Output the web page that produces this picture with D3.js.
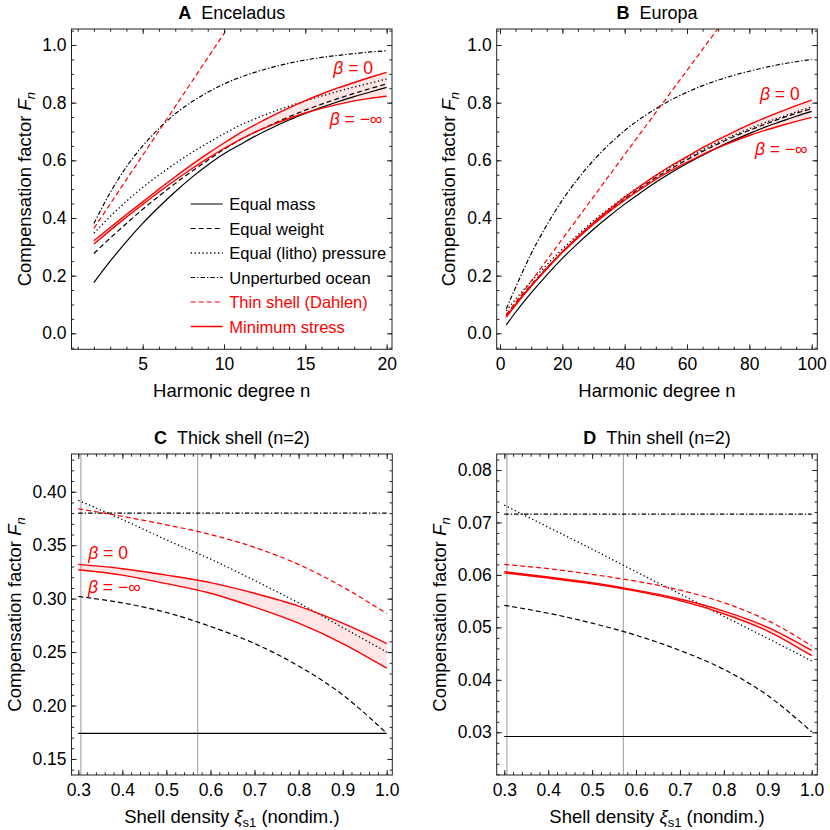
<!DOCTYPE html>
<html>
<head>
<meta charset="utf-8">
<script src="https://cdn.jsdelivr.net/npm/d3@7"></script>
<style>
  body { margin: 0; background: #fff; }
  svg text { font-family: "Liberation Sans", Arial, Helvetica, sans-serif; }
</style>
</head>
<body>
<svg id="fig" width="830" height="830"></svg>
<script>
// ---------- data ----------

// A: Enceladus, F_n vs harmonic degree
var degreeA = [2, 3, 4, 5, 6, 7, 8, 9, 10, 11, 12, 13, 14, 15, 16, 17, 18, 19, 20];
var encMass     = [0.176, 0.250, 0.318, 0.381, 0.438, 0.491, 0.540, 0.584, 0.623, 0.655, 0.686, 0.714, 0.740, 0.763, 0.784, 0.803, 0.821, 0.837, 0.853];
var encWeight   = [0.277, 0.330, 0.381, 0.430, 0.476, 0.520, 0.561, 0.600, 0.638, 0.672, 0.700, 0.726, 0.751, 0.774, 0.795, 0.814, 0.832, 0.849, 0.865];
var encPressure = [0.347, 0.405, 0.458, 0.506, 0.549, 0.589, 0.626, 0.660, 0.692, 0.722, 0.746, 0.768, 0.788, 0.806, 0.823, 0.839, 0.854, 0.868, 0.882];
var encOcean    = [0.381, 0.488, 0.577, 0.650, 0.710, 0.761, 0.802, 0.836, 0.865, 0.888, 0.907, 0.923, 0.937, 0.948, 0.957, 0.964, 0.970, 0.976, 0.980];
var encBeta0    = [0.321, 0.367, 0.412, 0.456, 0.500, 0.543, 0.584, 0.623, 0.660, 0.695, 0.726, 0.755, 0.782, 0.807, 0.830, 0.851, 0.870, 0.888, 0.905];
var encBetaInf  = [0.310, 0.357, 0.403, 0.447, 0.490, 0.531, 0.570, 0.607, 0.641, 0.672, 0.700, 0.724, 0.745, 0.764, 0.780, 0.794, 0.806, 0.815, 0.822];
var degreeDahlenA = [2, 4, 6, 8, 10, 12];
var encDahlen     = [0.364, 0.533, 0.702, 0.871, 1.040, 1.209];

// B: Europa
var degreeB = [2, 5, 10, 15, 20, 25, 30, 35, 40, 45, 50, 55, 60, 65, 70, 75, 80, 85, 90, 95, 100];
var eurMass     = [0.029, 0.073, 0.140, 0.202, 0.260, 0.312, 0.361, 0.406, 0.448, 0.487, 0.524, 0.558, 0.589, 0.618, 0.645, 0.670, 0.693, 0.715, 0.734, 0.753, 0.770];
var eurWeight   = [0.064, 0.104, 0.168, 0.227, 0.282, 0.333, 0.381, 0.425, 0.466, 0.504, 0.540, 0.572, 0.602, 0.631, 0.657, 0.682, 0.704, 0.725, 0.745, 0.763, 0.779];
var eurPressure = [0.078, 0.118, 0.180, 0.237, 0.292, 0.342, 0.390, 0.433, 0.474, 0.511, 0.547, 0.579, 0.609, 0.637, 0.663, 0.687, 0.710, 0.731, 0.749, 0.768, 0.785];
var eurOcean    = [0.085, 0.159, 0.276, 0.375, 0.462, 0.536, 0.600, 0.655, 0.703, 0.744, 0.779, 0.810, 0.836, 0.859, 0.878, 0.895, 0.909, 0.922, 0.933, 0.942, 0.950];
var eurBeta0    = [0.058, 0.100, 0.165, 0.226, 0.283, 0.335, 0.384, 0.429, 0.472, 0.511, 0.548, 0.582, 0.613, 0.644, 0.672, 0.699, 0.724, 0.747, 0.769, 0.790, 0.809];
var eurBetaInf  = [0.056, 0.098, 0.163, 0.223, 0.280, 0.331, 0.378, 0.422, 0.462, 0.499, 0.534, 0.565, 0.593, 0.620, 0.644, 0.666, 0.686, 0.704, 0.720, 0.735, 0.749];
var degreeDahlenB = [2, 20, 40, 60, 75];
var eurDahlen     = [0.064, 0.327, 0.620, 0.912, 1.131];

// C / D: F_2 vs shell density
var densityXi = [0.3, 0.4, 0.5, 0.6, 0.7, 0.8, 0.9, 1.0];
var refDensity = [0.306, 0.571];

var thickMass     = [0.174, 0.174, 0.174, 0.174, 0.174, 0.174, 0.174, 0.174];
var thickWeight   = [0.302, 0.296, 0.287, 0.274, 0.258, 0.237, 0.210, 0.174];
var thickPressure = [0.392, 0.374, 0.355, 0.337, 0.317, 0.296, 0.273, 0.250];
var thickOcean    = [0.380, 0.380, 0.380, 0.380, 0.380, 0.380, 0.380, 0.380];
var thickDahlen   = [0.384, 0.377, 0.369, 0.360, 0.348, 0.332, 0.311, 0.286];
var thickBeta0    = [0.332, 0.328, 0.322, 0.315, 0.305, 0.293, 0.277, 0.258];
var thickBetaInf  = [0.327, 0.322, 0.314, 0.305, 0.292, 0.277, 0.258, 0.235];

var thinMass     = [0.0292, 0.0292, 0.0292, 0.0292, 0.0292, 0.0292, 0.0292, 0.0292];
var thinWeight   = [0.0542, 0.0527, 0.0508, 0.0485, 0.0456, 0.0420, 0.0370, 0.0301];
var thinPressure = [0.0733, 0.0691, 0.0649, 0.0606, 0.0564, 0.0521, 0.0479, 0.0436];
var thinOcean    = [0.0716, 0.0716, 0.0716, 0.0716, 0.0716, 0.0716, 0.0716, 0.0716];
var thinDahlen   = [0.0620, 0.0612, 0.0601, 0.0588, 0.0571, 0.0547, 0.0513, 0.0465];
var thinBeta0    = [0.0606, 0.0596, 0.0585, 0.0571, 0.0554, 0.0531, 0.0500, 0.0456];
var thinBetaInf  = [0.0604, 0.0594, 0.0583, 0.0569, 0.0551, 0.0526, 0.0493, 0.0446];

// ticks
var xTicksA = [5, 10, 15, 20];
var xTicksB = [0, 20, 40, 60, 80, 100];
var yTicksAB = [0, 0.2, 0.4, 0.6, 0.8, 1.0];
var xTicksCD = [0.3, 0.4, 0.5, 0.6, 0.7, 0.8, 0.9, 1.0];
var yTicksC = [0.15, 0.20, 0.25, 0.30, 0.35, 0.40];
var yTicksD = [0.03, 0.04, 0.05, 0.06, 0.07, 0.08];

var legendKeys = ["mass", "weight", "pressure", "ocean", "dahlen", "stress"];
var legendLabels = ["Equal mass", "Equal weight", "Equal (litho) pressure", "Unperturbed ocean", "Thin shell (Dahlen)", "Minimum stress"];

// ---------- styles ----------
var RED = "#ff0000";
var styles = {
  mass:     {stroke: "#000", width: 1.2, dash: null},
  weight:   {stroke: "#000", width: 1.2, dash: "5,3"},
  pressure: {stroke: "#000", width: 1.3, dash: "1.3,2.6"},
  ocean:    {stroke: "#000", width: 1.2, dash: "4.5,2,1.3,2"},
  dahlen:   {stroke: RED,    width: 1.2, dash: "5,3"},
  stress:   {stroke: RED,    width: 1.4, dash: null}
};

var svg = d3.select("#fig");

var panel = (cfg) => {
  var x = d3.scaleLinear().domain(cfg.xDomain).range([cfg.left, cfg.right]);
  var y = d3.scaleLinear().domain(cfg.yDomain).range([cfg.bottom, cfg.top]);
  var g = svg.append("g");

  var clipId = "clip-" + cfg.id;
  g.append("clipPath").attr("id", clipId)
    .append("rect")
      .attr("x", cfg.left).attr("y", cfg.top)
      .attr("width", cfg.right - cfg.left).attr("height", cfg.bottom - cfg.top);
  var plot = g.append("g").attr("clip-path", "url(#" + clipId + ")");

  // gray reference lines
  plot.selectAll("line.ref")
    .data(cfg.refs || [])
    .join("line")
      .attr("class", "ref")
      .attr("x1", d => x(d)).attr("x2", d => x(d))
      .attr("y1", cfg.top).attr("y2", cfg.bottom)
      .attr("stroke", "#999").attr("stroke-width", 1);

  // shaded band between beta = 0 and beta = -inf
  var area = d3.area()
    .x(d => x(d[0])).y0(d => y(d[1])).y1(d => y(d[2]))
    .curve(d3.curveMonotoneX);
  plot.append("path")
    .datum(d3.zip(cfg.band.x, cfg.band.lo, cfg.band.hi))
    .attr("d", area)
    .attr("fill", RED).attr("fill-opacity", 0.1);

  var line = d3.line().x(d => x(d[0])).y(d => y(d[1])).curve(d3.curveMonotoneX);
  cfg.series.forEach(s => {
    var st = styles[s.key];
    plot.append("path")
      .datum(d3.zip(s.x, s.y))
      .attr("d", line)
      .attr("fill", "none")
      .attr("stroke", st.stroke)
      .attr("stroke-width", st.width)
      .attr("stroke-dasharray", st.dash);
  });

  // frame ticks, pointing inwards on all four sides
  var styleAxis = sel => {
    sel.select(".domain").remove();
    sel.attr("font-size", 17.5).attr("font-family", null);
    sel.selectAll("line").attr("stroke", "#222");
    sel.selectAll("text").attr("fill", "#000");
  };
  var inX = v => v >= cfg.xDomain[0] && v <= cfg.xDomain[1];
  var inY = v => v >= cfg.yDomain[0] && v <= cfg.yDomain[1];
  var xMinor = cfg.xMinor.filter(inX), yMinor = cfg.yMinor.filter(inY);

  g.append("g").attr("transform", `translate(0,${cfg.bottom})`)
    .call(d3.axisBottom(x).tickValues(xMinor).tickSize(-2.7).tickFormat("")).call(styleAxis);
  g.append("g").attr("transform", `translate(0,${cfg.bottom})`)
    .call(d3.axisBottom(x).tickValues(cfg.xTicks).tickSize(-5).tickPadding(8.3).tickFormat(cfg.xFormat)).call(styleAxis);
  g.append("g").attr("transform", `translate(0,${cfg.top})`)
    .call(d3.axisTop(x).tickValues(xMinor).tickSize(-2.7).tickFormat("")).call(styleAxis);
  g.append("g").attr("transform", `translate(0,${cfg.top})`)
    .call(d3.axisTop(x).tickValues(cfg.xTicks).tickSize(-5).tickFormat("")).call(styleAxis);
  g.append("g").attr("transform", `translate(${cfg.left},0)`)
    .call(d3.axisLeft(y).tickValues(yMinor).tickSize(-2.7).tickFormat("")).call(styleAxis);
  g.append("g").attr("transform", `translate(${cfg.left},0)`)
    .call(d3.axisLeft(y).tickValues(cfg.yTicks).tickSize(-5).tickPadding(5).tickFormat(cfg.yFormat)).call(styleAxis);
  g.append("g").attr("transform", `translate(${cfg.right},0)`)
    .call(d3.axisRight(y).tickValues(yMinor).tickSize(-2.7).tickFormat("")).call(styleAxis);
  g.append("g").attr("transform", `translate(${cfg.right},0)`)
    .call(d3.axisRight(y).tickValues(cfg.yTicks).tickSize(-5).tickFormat("")).call(styleAxis);

  g.append("rect")
    .attr("x", cfg.left).attr("y", cfg.top)
    .attr("width", cfg.right - cfg.left).attr("height", cfg.bottom - cfg.top)
    .attr("fill", "none").attr("stroke", "#222").attr("stroke-width", 1);

  // title
  var cx = (cfg.left + cfg.right) / 2;
  var title = g.append("text")
    .attr("x", cx).attr("y", cfg.top - 10)
    .attr("text-anchor", "middle").attr("font-size", 18);
  title.append("tspan").attr("font-weight", "bold").text(cfg.letter);
  title.append("tspan").attr("dx", 10).text(cfg.title);

  // x label
  var xl = g.append("text")
    .attr("x", cx).attr("y", cfg.bottom + 48)
    .attr("text-anchor", "middle").attr("font-size", 18.5);
  cfg.xLabel(xl);

  // y label
  var yl = g.append("text")
    .attr("transform", `translate(${cfg.left - cfg.yLabelOffset},${(cfg.top + cfg.bottom) / 2}) rotate(-90)`)
    .attr("text-anchor", "middle").attr("font-size", 18.5);
  yl.append("tspan").text("Compensation factor ");
  yl.append("tspan").attr("font-style", "italic").text("F");
  yl.append("tspan").attr("font-style", "italic").attr("font-size", 13).attr("dy", 4).text("n");

  // beta labels
  (cfg.betaLabels || []).forEach(b => {
    var t = g.append("text")
      .attr("x", x(b.at[0])).attr("y", y(b.at[1]))
      .attr("fill", RED).attr("font-size", 17.5);
    t.append("tspan").attr("font-style", "italic").text("β");
    t.append("tspan").text(" = " + b.value);
  });

  return {x: x, y: y, g: g};
};

var degreeLabel = sel => sel.text("Harmonic degree n");
var densityLabel = sel => {
  sel.append("tspan").text("Shell density ");
  sel.append("tspan").attr("font-style", "italic").text("ξ");
  sel.append("tspan").attr("font-size", 13).attr("dy", 4).text("s1");
  sel.append("tspan").attr("dy", -4).text(" (nondim.)");
};

var step = (a, b, s) => d3.range(Math.round(a / s), Math.round(b / s) + 1).map(k => +(k * s).toFixed(4));

var A = panel({
  id: "A", letter: "A", title: "Enceladus",
  left: 71.5, right: 392, top: 29, bottom: 349.3,
  xDomain: [0.623, 20.33], yDomain: [-0.0555, 1.0555],
  xTicks: xTicksA, xMinor: step(0, 21, 1), xFormat: d3.format("d"),
  yTicks: yTicksAB, yMinor: step(-0.05, 1.05, 0.05), yFormat: d3.format(".1f"),
  xLabel: degreeLabel, yLabelOffset: 41,
  band: {x: degreeA, lo: encBetaInf, hi: encBeta0},
  series: [
    {key: "mass", x: degreeA, y: encMass},
    {key: "weight", x: degreeA, y: encWeight},
    {key: "pressure", x: degreeA, y: encPressure},
    {key: "ocean", x: degreeA, y: encOcean},
    {key: "dahlen", x: degreeDahlenA, y: encDahlen},
    {key: "stress", x: degreeA, y: encBeta0},
    {key: "stress", x: degreeA, y: encBetaInf}
  ],
  betaLabels: [{at: [16.72, 0.899], value: "0"}, {at: [16.5, 0.7225], value: "−∞"}]
});

// legend inside panel A
var legend = A.g.append("g").attr("transform", "translate(190.7,204)");
legendKeys.forEach((k, i) => {
  var st = styles[k];
  var row = legend.append("g").attr("transform", `translate(0,${i * 24.5})`);
  row.append("line")
    .attr("x1", 0).attr("x2", 32).attr("y1", 0).attr("y2", 0)
    .attr("stroke", st.stroke).attr("stroke-width", st.width).attr("stroke-dasharray", st.dash);
  row.append("text")
    .attr("x", 38.6).attr("y", 6)
    .attr("font-size", 16.5)
    .attr("fill", st.stroke === RED ? RED : "#000")
    .text(legendLabels[i]);
});

panel({
  id: "B", letter: "B", title: "Europa",
  left: 496.7, right: 817.3, top: 29, bottom: 349.3,
  xDomain: [-1.06, 101.8], yDomain: [-0.0555, 1.0555],
  xTicks: xTicksB, xMinor: step(0, 100, 5), xFormat: d3.format("d"),
  yTicks: yTicksAB, yMinor: step(-0.05, 1.05, 0.05), yFormat: d3.format(".1f"),
  xLabel: degreeLabel, yLabelOffset: 41.5,
  band: {x: degreeB, lo: eurBetaInf, hi: eurBeta0},
  series: [
    {key: "mass", x: degreeB, y: eurMass},
    {key: "weight", x: degreeB, y: eurWeight},
    {key: "pressure", x: degreeB, y: eurPressure},
    {key: "ocean", x: degreeB, y: eurOcean},
    {key: "dahlen", x: degreeDahlenB, y: eurDahlen},
    {key: "stress", x: degreeB, y: eurBeta0},
    {key: "stress", x: degreeB, y: eurBetaInf}
  ],
  betaLabels: [{at: [83.4, 0.809], value: "0"}, {at: [81.8, 0.617], value: "−∞"}]
});

panel({
  id: "C", letter: "C", title: "Thick shell (n=2)",
  left: 71.5, right: 392.3, top: 454, bottom: 775,
  xDomain: [0.2846, 1.0127], yDomain: [0.135, 0.4353],
  xTicks: xTicksCD, xMinor: step(0.28, 1.02, 0.02), xFormat: d3.format(".1f"),
  yTicks: yTicksC, yMinor: step(0.13, 0.44, 0.01), yFormat: d3.format(".2f"),
  xLabel: densityLabel, yLabelOffset: 51,
  refs: refDensity,
  band: {x: densityXi, lo: thickBetaInf, hi: thickBeta0},
  series: [
    {key: "mass", x: densityXi, y: thickMass},
    {key: "weight", x: densityXi, y: thickWeight},
    {key: "pressure", x: densityXi, y: thickPressure},
    {key: "ocean", x: densityXi, y: thickOcean},
    {key: "dahlen", x: densityXi, y: thickDahlen},
    {key: "stress", x: densityXi, y: thickBeta0},
    {key: "stress", x: densityXi, y: thickBetaInf}
  ],
  betaLabels: [{at: [0.3227, 0.337], value: "0"}, {at: [0.322, 0.305], value: "−∞"}]
});

panel({
  id: "D", letter: "D", title: "Thin shell (n=2)",
  left: 496.7, right: 817.3, top: 454, bottom: 775,
  xDomain: [0.2827, 1.0128], yDomain: [0.02186, 0.08305],
  xTicks: xTicksCD, xMinor: step(0.28, 1.02, 0.02), xFormat: d3.format(".1f"),
  yTicks: yTicksD, yMinor: step(0.022, 0.082, 0.002), yFormat: d3.format(".2f"),
  xLabel: densityLabel, yLabelOffset: 51,
  refs: refDensity,
  band: {x: densityXi, lo: thinBetaInf, hi: thinBeta0},
  series: [
    {key: "mass", x: densityXi, y: thinMass},
    {key: "weight", x: densityXi, y: thinWeight},
    {key: "pressure", x: densityXi, y: thinPressure},
    {key: "ocean", x: densityXi, y: thinOcean},
    {key: "dahlen", x: densityXi, y: thinDahlen},
    {key: "stress", x: densityXi, y: thinBeta0},
    {key: "stress", x: densityXi, y: thinBetaInf}
  ]
});
</script>
</body>
</html>
